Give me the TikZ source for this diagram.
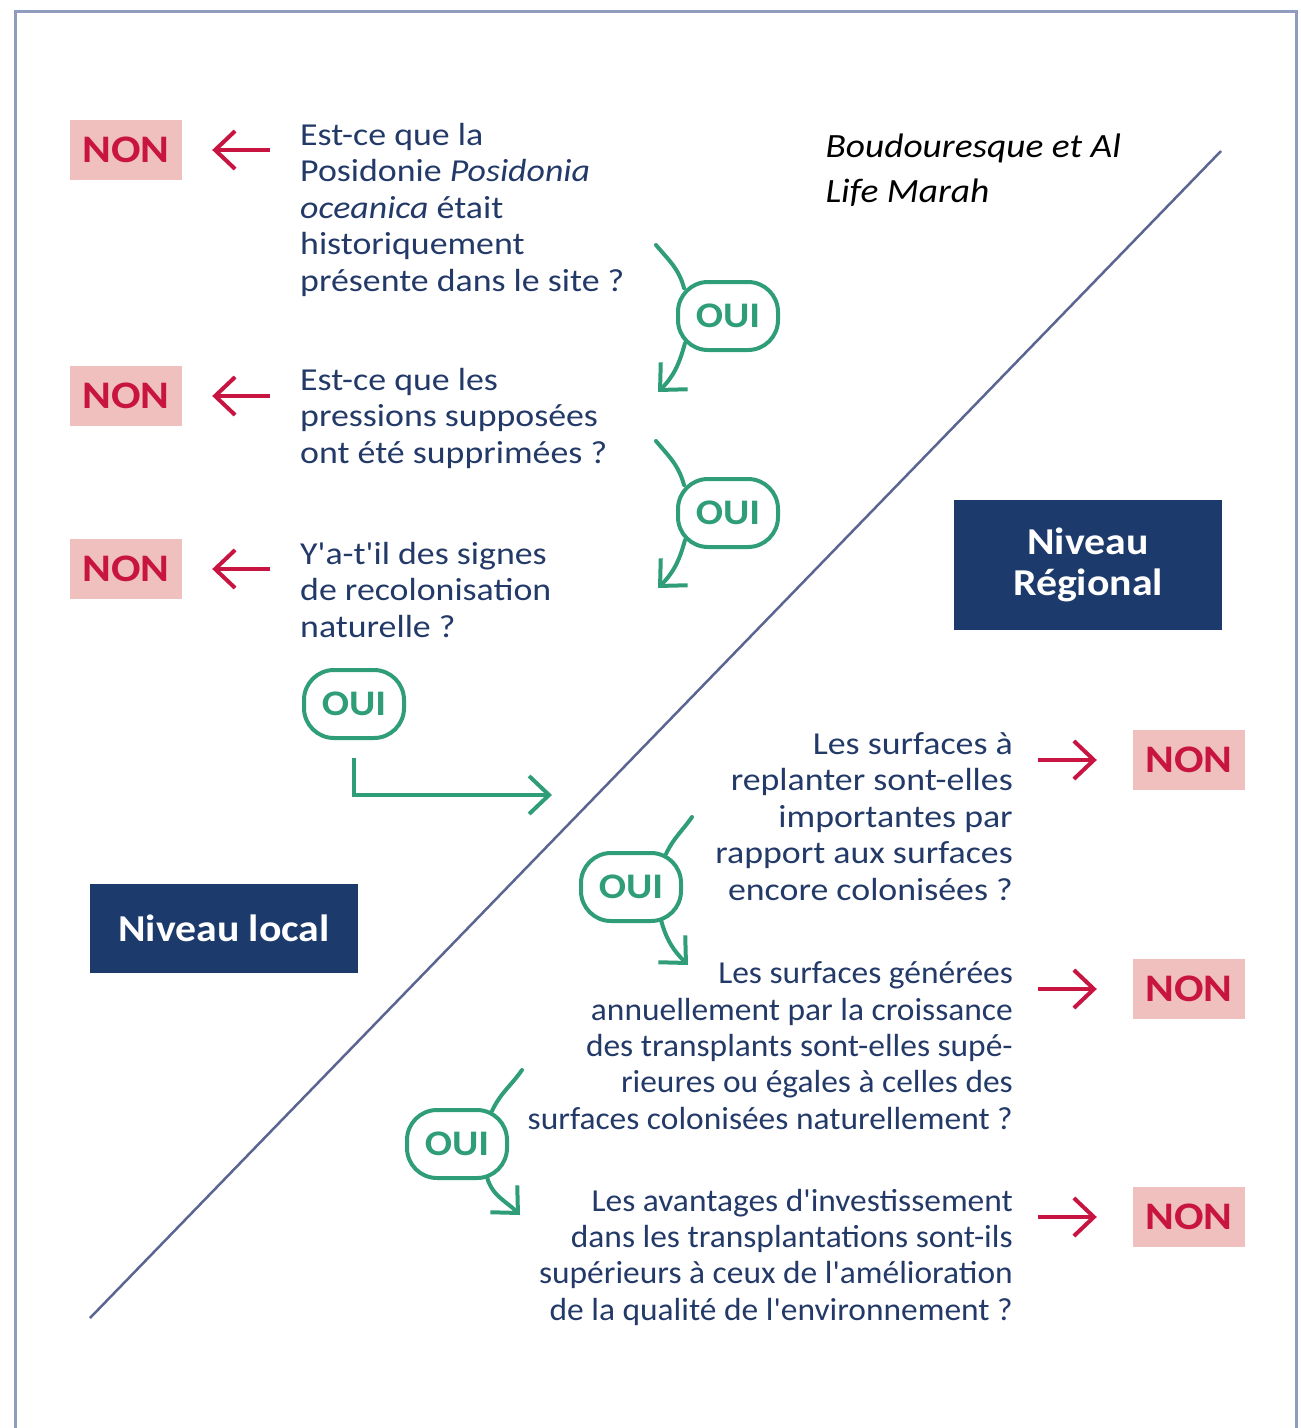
\documentclass[tikz,border=0pt]{standalone}
\usepackage{fontspec}
\setmainfont{Carlito}
\newfontfamily\widefont[FakeStretch=1.12]{Carlito}
\newfontfamily\longfont[FakeStretch=1.045]{Carlito}
\newfontfamily\boxfont[FakeStretch=1.1]{Carlito}
\usepackage{tikz}
\usetikzlibrary{calc,arrows.meta,positioning}
\definecolor{positext}{RGB}{35,58,105}
\definecolor{posibox}{RGB}{28,58,108}
\definecolor{posinonfill}{RGB}{239,192,190}
\definecolor{posired}{RGB}{200,20,65}
\definecolor{posigreen}{RGB}{46,157,120}
\definecolor{posidiag}{RGB}{90,102,145}
\definecolor{posiframe}{RGB}{145,155,190}

\begin{document}
\begin{tikzpicture}[x=1pt,y=1pt,
  every node/.style={text=positext},
  question/.style={inner sep=0pt,font=\widefont\fontsize{32}{36.5}\selectfont},
  longquestion/.style={inner sep=0pt,font=\longfont\fontsize{32}{36.3}\selectfont},
  nonbox/.style={fill=posinonfill,text=posired,inner sep=0pt,minimum width=112pt,minimum height=60pt,font=\widefont\fontsize{39}{40}\selectfont\bfseries},
  ouibox/.style={draw=posigreen,line width=4pt,rounded corners=30pt,minimum width=100pt,minimum height=68pt,inner sep=0pt,text=posigreen,font=\widefont\fontsize{36}{40}\selectfont\bfseries},
  levelbox/.style={fill=posibox,text=white,align=center,inner sep=0pt,minimum width=268pt,font=\boxfont\fontsize{38}{41}\selectfont\bfseries},
  nonarrow/.style={posired,line width=4pt,-{Straight Barb[length=20pt,width=38pt]}},
  ouiline/.style={posigreen,line width=4pt,line cap=round},
  ouiarrow/.style={ouiline,-{Straight Barb[length=20pt,width=38pt]}}]
  \useasboundingbox (0,0) rectangle (1301,-1428);
  % frame and diagonal
  \draw[posiframe,line width=3pt] (15,-1428) -- (15,-11) -- (1296,-11) -- (1296,-1428);
  \draw[posidiag,line width=2.5pt] (90,-1318) -- (1221,-151);
  \node[anchor=base west,align=left,text=black,font=\boxfont\fontsize{34}{45}\selectfont\itshape] (cite) at (822,-202) {Boudouresque et Al\\Life Marah};
  % niveau local, questions
  \node[question,anchor=base west,align=left] (q1) at (300,-291) {Est-ce que la\\Posidonie \textit{Posidonia}\\\textit{oceanica} était\\historiquement\\présente dans le site ?};
  \node[question,anchor=base west,align=left] (q2) at (300,-463) {Est-ce que les\\pressions supposées\\ont été supprimées ?};
  \node[question,anchor=base west,align=left] (q3) at (300,-637) {Y'a-t'il des signes\\de recolonisation\\naturelle ?};
  \node[nonbox] (non1) at (126,-150) {NON};
  \node[nonbox] (non2) at (126,-396) {NON};
  \node[nonbox] (non3) at (126,-569) {NON};
  \foreach \i in {1,2,3}
    \draw[nonarrow,shorten <=30pt,shorten >=30pt] (non\i.east -| q\i.west) -- (non\i.east);
  % niveau regional, questions
  \node[question,anchor=base east,align=right] (q4) at (1013,-900) {Les surfaces à\\replanter sont-elles\\importantes par\\rapport aux surfaces\\encore colonisées ?};
  \node[longquestion,anchor=base east,align=right] (q5) at (1013,-1129) {Les surfaces générées\\annuellement par la croissance\\des transplants sont-elles supé-\\rieures ou égales à celles des\\surfaces colonisées naturellement ?};
  \node[longquestion,anchor=base east,align=right] (q6) at (1013,-1320) {Les avantages d'investissement\\dans les transplantations sont-ils\\supérieurs à ceux de l'amélioration\\de la qualité de l'environnement ?};
  \node[nonbox] (non4) at (1189,-760) {NON};
  \node[nonbox] (non5) at (1189,-989) {NON};
  \node[nonbox] (non6) at (1189,-1217) {NON};
  \foreach \i in {4,5,6}
    \draw[nonarrow,shorten <=25pt,shorten >=36pt] (non\i.west -| q\i.east) -- (non\i.west);
  % OUI
  \node[ouibox] (oui1) at (728,-316) {OUI};
  \node[ouibox] (oui2) at (728,-513) {OUI};
  \node[ouibox] (oui3) at (354,-704) {OUI};
  \node[ouibox] (oui4) at (631,-887) {OUI};
  \node[ouibox] (oui5) at (457,-1144) {OUI};
  \coordinate (from1) at (656,-245); \coordinate (to1) at (658,-392);
  \coordinate (from2) at (656,-441); \coordinate (to2) at (658,-588);
  \coordinate (to3) at (552,-795);
  \coordinate (from4) at (692,-817); \coordinate (to4) at (688,-965);
  \coordinate (from5) at (522,-1070); \coordinate (to5) at (520,-1215);
  \foreach \i in {1,2} {
    \draw[ouiline] (from\i) to[out=-50,in=105] ($(oui\i.north west)+(8,-8)$);
    \draw[ouiarrow] ($(oui\i.south west)+(9,9)$) to[out=-105,in=45] (to\i);
  }
  \draw[ouiarrow,line cap=butt,shorten <=18pt] (oui3.south) |- (to3);
  \foreach \i in {4,5} {
    \draw[ouiline] (from\i) to[out=-125,in=65] ($(oui\i.north east)+(-17,-3)$);
    \draw[ouiarrow] ($(oui\i.south east)+(-22,3)$) to[out=-75,in=135] (to\i);
  }
  % niveaux
  \node[levelbox,minimum height=130pt] (regional) at (1088,-565) {Niveau\\Régional};
  \node[levelbox,minimum height=89pt] (local) at (224,-928) {Niveau local};
\end{tikzpicture}
\end{document}
